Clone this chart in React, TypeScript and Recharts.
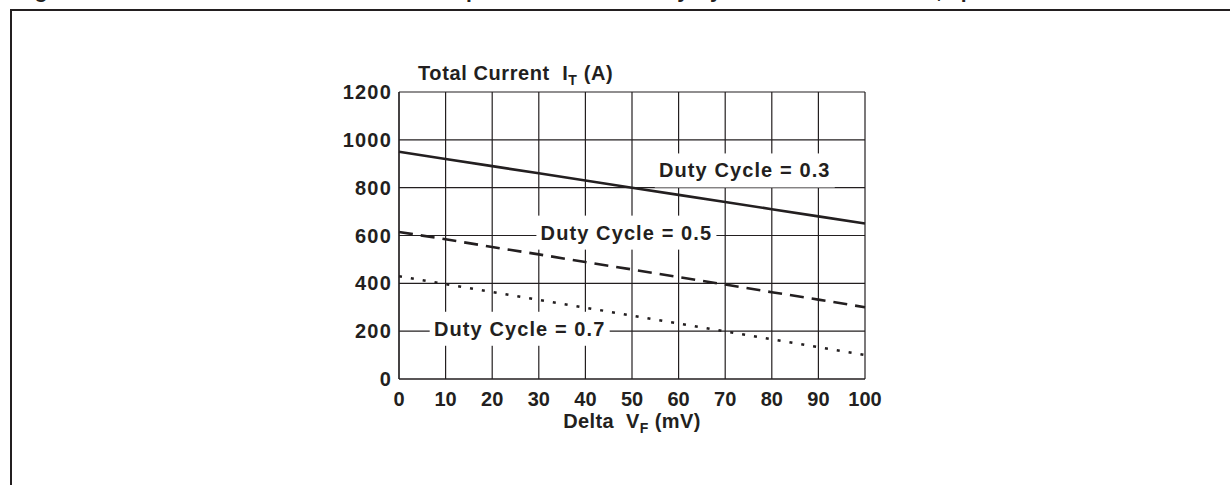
import { LineChart, Line, XAxis, YAxis, CartesianGrid, ReferenceDot } from "recharts";

const INK = "#231f20";
const FONT = "'Liberation Sans', Arial, Helvetica, sans-serif";

// Delta VF (mV) on the x axis
const deltaVf = [0, 10, 20, 30, 40, 50, 60, 70, 80, 90, 100];
// total current IT (A)
const duty03 = [950, 920, 890, 860, 830, 800, 770, 740, 710, 680, 650];
const duty05 = [615, 584, 552, 521, 489, 458, 426, 395, 363, 332, 300];
const duty07 = [430, 397, 364, 331, 298, 265, 232, 199, 166, 133, 100];

const xTicks = [0, 10, 20, 30, 40, 50, 60, 70, 80, 90, 100];
const yTicks = [0, 200, 400, 600, 800, 1000, 1200];

const notes = [
  { text: "Duty Cycle = 0.3", x: 74.2, y: 872 },
  { text: "Duty Cycle = 0.5", x: 48.8, y: 612 },
  { text: "Duty Cycle = 0.7", x: 25.9, y: 210 },
];

const data = deltaVf.map((v, i) => ({
  dvf: v,
  dc03: duty03[i],
  dc05: duty05[i],
  dc07: duty07[i],
}));

const textStyle = { fill: INK, fontSize: 20, fontWeight: "bold", fontFamily: FONT };

const noteShape = (text: string) => (props: any) => {
  const { cx, cy } = props;
  return (
    <g>
      <rect x={cx - 90} y={cy - 17} width={180} height={34} fill="#fff" />
      <text x={cx} y={cy + 7} textAnchor="middle" letterSpacing={1.1} {...textStyle}>
        {text}
      </text>
    </g>
  );
};

function YTitle({ viewBox }: any) {
  const { x, y, width } = viewBox;
  return (
    <text x={x + width + 19} y={y - 12} xmlSpace="preserve" letterSpacing={0.6} {...textStyle}>
      <tspan>Total Current  I</tspan>
      <tspan fontSize={14} dy={5}>T</tspan>
      <tspan dy={-5}> (A)</tspan>
    </text>
  );
}

function XTitle({ viewBox }: any) {
  const { x, y, width } = viewBox;
  return (
    <text x={x + width / 2} y={y + 49} textAnchor="middle" xmlSpace="preserve" letterSpacing={0.4} {...textStyle}>
      <tspan>Delta  V</tspan>
      <tspan fontSize={14} dy={5}>F</tspan>
      <tspan dy={-5}> (mV)</tspan>
    </text>
  );
}

export default function App() {
  return (
    <div
      style={{
        position: "absolute",
        left: 0,
        top: 0,
        width: 1230,
        height: 485,
        overflow: "hidden",
        background: "#fff",
      }}
    >
      {/* figure caption, cut off by the top edge as in the source page */}
      <div
        style={{
          position: "absolute",
          left: 16,
          top: -19,
          fontSize: 21,
          lineHeight: "20px",
          fontWeight: "bold",
          fontFamily: FONT,
          color: INK,
          whiteSpace: "nowrap",
        }}
      >
        Figure 5. Total current limit of two devices in parallel mode vs. Duty Cycle for ΔVF mismatch, up to 50 mV
      </div>
      <div
        style={{
          position: "absolute",
          left: 10,
          top: 9,
          width: 1400,
          height: 700,
          border: `2px solid ${INK}`,
        }}
      />
      <div style={{ position: "absolute", left: 0, top: 0 }}>
        <LineChart
          width={1230}
          height={485}
          data={data}
          margin={{ top: 92, right: 365, bottom: 76, left: 339 }}
        >
          <CartesianGrid stroke={INK} strokeWidth={1.2} />
          <XAxis
            dataKey="dvf"
            type="number"
            domain={[0, 100]}
            ticks={xTicks}
            height={30}
            axisLine={{ stroke: INK, strokeWidth: 1.2 }}
            tickLine={false}
            tickSize={6}
            tickMargin={7}
            tick={textStyle}
            interval={0}
            label={<XTitle />}
          />
          <YAxis
            type="number"
            domain={[0, 1200]}
            ticks={yTicks}
            width={60}
            axisLine={{ stroke: INK, strokeWidth: 1.2 }}
            tickLine={false}
            tickSize={6}
            tickMargin={1}
            tick={{ ...textStyle, letterSpacing: 1.2 }}
            interval={0}
            label={<YTitle />}
          />
          {notes.map((n) => (
            <ReferenceDot key={n.text} x={n.x} y={n.y} r={0} shape={noteShape(n.text)} />
          ))}
          <Line
            type="linear"
            dataKey="dc03"
            stroke={INK}
            strokeWidth={2.6}
            dot={false}
            isAnimationActive={false}
          />
          <Line
            type="linear"
            dataKey="dc05"
            stroke={INK}
            strokeWidth={2.6}
            strokeDasharray="14 8"
            dot={false}
            isAnimationActive={false}
          />
          <Line
            type="linear"
            dataKey="dc07"
            stroke={INK}
            strokeWidth={2.6}
            strokeDasharray="3 9"
            dot={false}
            isAnimationActive={false}
          />
        </LineChart>
      </div>
    </div>
  );
}
